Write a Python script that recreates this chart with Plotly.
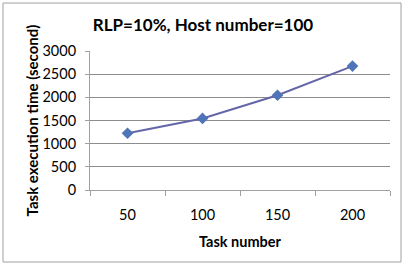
import plotly.graph_objects as go

categories = ["50", "100", "150", "200"]
exec_time = [1225, 1545, 2045, 2675]
y_ticks = [0, 500, 1000, 1500, 2000, 2500, 3000]

fig = go.Figure()
fig.add_trace(go.Scatter(
    x=categories, y=exec_time, mode="lines+markers",
    line=dict(color="#6466A8", width=2),
    marker=dict(symbol="diamond", size=9, color="#4F74B8"),
    showlegend=False,
))

font = "Lato, Carlito, Calibri, sans-serif"
fig.update_layout(
    width=406, height=266,
    margin=dict(l=90, r=16, t=51, b=76),
    paper_bgcolor="white", plot_bgcolor="white",
    font=dict(family=font, size=14, color="black"),
    title=dict(text="<b>RLP=10%, Host number=100</b>", x=0.5, xanchor="center",
               y=1 - 25 / 266, yanchor="middle", font=dict(size=17)),
    xaxis=dict(
        type="category", range=[-0.5, 3.5], tickson="boundaries",
        ticks="outside", ticklen=5, tickcolor="#A0A0A0",
        showline=True, linecolor="#A0A0A0", linewidth=1,
        showgrid=False, tickfont=dict(size=14.5), ticklabelstandoff=12,
        title=dict(text="<b>Task number</b>", font=dict(size=14.5), standoff=14),
    ),
    yaxis=dict(
        range=[0, 3000], tickvals=y_ticks,
        ticks="outside", ticklen=4, tickcolor="#A0A0A0",
        showline=True, linecolor="#A0A0A0", linewidth=1,
        showgrid=True, gridcolor="#8C8C8C", gridwidth=1,
        zeroline=False, tickfont=dict(size=14.5), ticklabelstandoff=6,
        title=dict(text="<b>Task execution time (second)</b>", font=dict(size=15), standoff=0),
    ),
    shapes=[dict(type="rect", xref="paper", yref="paper",
                 x0=-0.29, x1=1.0367, y0=-0.518, y1=1.345,
                 line=dict(color="#A0A0A0", width=1), layer="below")],
)

fig.write_html("out.html")
